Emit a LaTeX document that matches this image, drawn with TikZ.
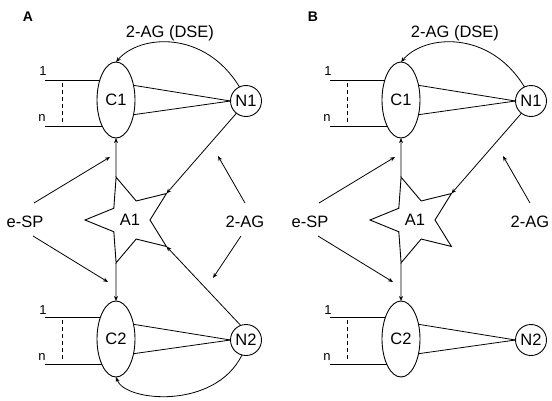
\documentclass[tikz,border=0pt]{standalone}
\usepackage{fontspec}
\setmainfont{Liberation Sans}
\usetikzlibrary{shapes.geometric,arrows.meta}

\begin{document}
\begin{tikzpicture}[x=1pt,y=-1pt,
  every node/.style={font=\fontsize{16.5}{19}\selectfont, inner sep=0pt, outer sep=0pt},
  cell/.style={draw, ellipse, minimum width=38, minimum height=76, line width=0.9pt},
  nrn/.style={draw, circle, minimum size=31, line width=0.9pt},
  astro/.style={draw, star, star points=5, star point ratio=2.25, minimum size=90, shape border rotate=90, line width=0.9pt},
  num/.style={font=\fontsize{13}{15}\selectfont},
  panel/.style={font=\fontsize{14}{16}\selectfont\bfseries},
  con/.style={line width=0.8pt},
  dsh/.style={con, dash pattern=on 4pt off 3pt},
  arr/.style={con, -{Stealth[length=5pt,width=4pt]}}]
\useasboundingbox (0,0) rectangle (552,400);

\node[panel] (a-lab) at (28,17) {A};
\node (a-dse) at (170,33) {2-AG (DSE)};
\node[cell] (a-C1) at (116,100) {C1};
\node[nrn] (a-N1) at (246,101) {N1};
\node[astro] (a-A1) at (130,220) {A1};
\node[cell] (a-C2) at (116,339) {C2};
\node[nrn] (a-N2) at (246,340) {N2};
\node (a-esp) at (25,222) {e-SP};
\node (a-ag) at (245,222) {2-AG};
\node[num] (a-one1) at (43,71) {1};
\node[num] (a-n1) at (42,118) {n};
\node[num] (a-one2) at (43,310) {1};
\node[num] (a-n2) at (42,357) {n};

\coordinate (a-i1) at (45,80);
\coordinate (a-i2) at (45,126);
\coordinate (a-i3) at (45,317);
\coordinate (a-i4) at (45,364);
\coordinate (a-d1) at (62,83);
\coordinate (a-d2) at (62,123);
\coordinate (a-d3) at (62,320);
\coordinate (a-d4) at (62,361);
\coordinate (a-t1) at (110,157);
\coordinate (a-t2) at (108,282);
\coordinate (a-t3) at (218,156);
\coordinate (a-t4) at (213,278);

\draw[con] (a-i1) -- (a-i1 -| a-C1.129);
\draw[con] (a-i2) -- (a-i2 -| a-C1.242);
\draw[con] (a-i3) -- (a-i3 -| a-C2.129);
\draw[con] (a-i4) -- (a-i4 -| a-C2.242);
\draw[dsh] (a-d1) -- (a-d2);
\draw[dsh] (a-d3) -- (a-d4);
\draw[con] (a-C1.40) -- (a-N1.west);
\draw[con] (a-C1.-40) -- (a-N1.west);
\draw[con] (a-C2.40) -- (a-N2.west);
\draw[con] (a-C2.-40) -- (a-N2.west);
\draw[arr] (a-N1.115) .. controls (205,30) and (140,34) .. (a-C1.north);
\draw[arr] (a-A1.108) -- (a-C1.south);
\draw[arr] (a-A1.252) -- (a-C2.north);
\draw[arr] (a-N1.232) -- (a-A1.36);
\draw[arr] (a-N2.110) -- (a-A1.-36);
\draw[arr] (a-N2.255) .. controls (215,410) and (125,402) .. (a-C2.south);
\draw[arr] ([shift={(9,-19)}]a-esp.center) -- (a-t1);
\draw[arr] ([shift={(8,14)}]a-esp.center) -- (a-t2);
\draw[arr] ([shift={(0,-19)}]a-ag.center) -- (a-t3);
\draw[arr] ([shift={(-4,14)}]a-ag.center) -- (a-t4);

\node[panel] (b-lab) at (313,17) {B};
\node (b-dse) at (455,33) {2-AG (DSE)};
\node[cell] (b-C1) at (401,100) {C1};
\node[nrn] (b-N1) at (531,101) {N1};
\node[astro] (b-A1) at (415,220) {A1};
\node[cell] (b-C2) at (401,339) {C2};
\node[nrn] (b-N2) at (531,340) {N2};
\node (b-esp) at (310,222) {e-SP};
\node (b-ag) at (530,222) {2-AG};
\node[num] (b-one1) at (328,71) {1};
\node[num] (b-n1) at (327,118) {n};
\node[num] (b-one2) at (328,310) {1};
\node[num] (b-n2) at (327,357) {n};

\coordinate (b-i1) at (330,80);
\coordinate (b-i2) at (330,126);
\coordinate (b-i3) at (330,317);
\coordinate (b-i4) at (330,364);
\coordinate (b-d1) at (347,83);
\coordinate (b-d2) at (347,123);
\coordinate (b-d3) at (347,320);
\coordinate (b-d4) at (347,361);
\coordinate (b-t1) at (395,157);
\coordinate (b-t2) at (393,282);
\coordinate (b-t3) at (503,156);

\draw[con] (b-i1) -- (b-i1 -| b-C1.129);
\draw[con] (b-i2) -- (b-i2 -| b-C1.242);
\draw[con] (b-i3) -- (b-i3 -| b-C2.129);
\draw[con] (b-i4) -- (b-i4 -| b-C2.242);
\draw[dsh] (b-d1) -- (b-d2);
\draw[dsh] (b-d3) -- (b-d4);
\draw[con] (b-C1.40) -- (b-N1.west);
\draw[con] (b-C1.-40) -- (b-N1.west);
\draw[con] (b-C2.40) -- (b-N2.west);
\draw[con] (b-C2.-40) -- (b-N2.west);
\draw[arr] (b-N1.115) .. controls (490,30) and (425,34) .. (b-C1.north);
\draw[arr] (b-A1.108) -- (b-C1.south);
\draw[arr] (b-A1.252) -- (b-C2.north);
\draw[arr] (b-N1.232) -- (b-A1.36);
\draw[arr] ([shift={(9,-19)}]b-esp.center) -- (b-t1);
\draw[arr] ([shift={(8,14)}]b-esp.center) -- (b-t2);
\draw[arr] ([shift={(0,-19)}]b-ag.center) -- (b-t3);
\end{tikzpicture}
\end{document}
